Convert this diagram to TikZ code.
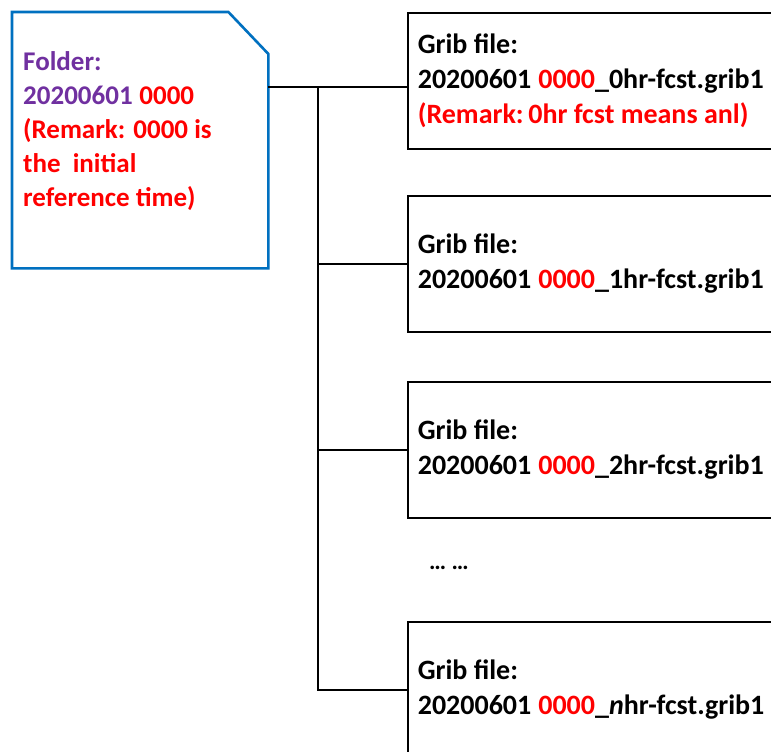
\documentclass[tikz,border=0pt]{standalone}
\usepackage{fontspec}
\setmainfont{Carlito}
\definecolor{folderblue}{RGB}{0,112,192}
\definecolor{folderpurple}{RGB}{112,48,160}
\definecolor{hotred}{RGB}{255,0,0}
\tikzset{
  filebox/.style={draw=black, line width=1.6pt, rectangle, anchor=north west,
    minimum width=420pt, minimum height=136pt, text width=400pt, align=flush left,
    inner xsep=8pt, font=\bfseries\fontsize{28}{35}\selectfont},
  wire/.style={draw=black, line width=1.6pt},
}
\newcommand{\rz}[1]{\textcolor{hotred}{#1}}
\newcommand{\gap}{\hspace{0.25em}}
\begin{document}
\begin{tikzpicture}[x=1pt,y=-1pt]
\useasboundingbox[fill=white] (0,0) rectangle (771,752);

% folder: invisible frame node, outline with a cut top-right corner
\node[rectangle, minimum width=256pt, minimum height=256pt, inner sep=0pt,
      anchor=north west] (folder) at (12,12) {};
\draw[draw=folderblue, line width=2.6pt, line join=miter]
  (folder.north west) -- ([xshift=-40pt]folder.north east)
  -- ([yshift=-42pt]folder.north east) -- (folder.south east)
  -- (folder.south west) -- cycle;
\node[anchor=north west, inner sep=0pt, align=left,
      font=\bfseries\fontsize{27}{34}\selectfont] (ftext) at (23,51)
  {\textcolor{folderpurple}{Folder:}\\
   \textcolor{folderpurple}{20200601}\gap\rz{0000}\\
   \rz{(Remark: 0000 is}\\
   \rz{the\ \ initial}\\
   \rz{reference time)}};

% grib files
\node[filebox] (box1) at (407,12)
  {Grib file:\\20200601\gap\rz{0000}\_0hr-fcst.grib1\\
   \rz{(Remark:\,0hr fcst means anl)}};
\node[filebox] (box2) at (407,195)
  {Grib file:\\20200601\gap\rz{0000}\_1hr-fcst.grib1};
\node[filebox] (box3) at (407,381)
  {Grib file:\\20200601\gap\rz{0000}\_2hr-fcst.grib1};
\node[filebox] (box4) at (407,621)
  {Grib file:\\20200601\gap\rz{0000}\_\textit{n}hr-fcst.grib1};

\node[font=\bfseries\fontsize{24}{28}\selectfont, inner sep=0pt] (dots) at (449,568) {\dots\ \dots};

% connectors
\coordinate (junction) at (318,87);
\draw[wire] (folder.east |- junction) -- (box1.west |- junction);
\draw[wire] (junction) |- (box2.west);
\draw[wire] (junction) |- (box3.west);
\draw[wire] (junction) |- (box4.west);
\end{tikzpicture}
\end{document}
